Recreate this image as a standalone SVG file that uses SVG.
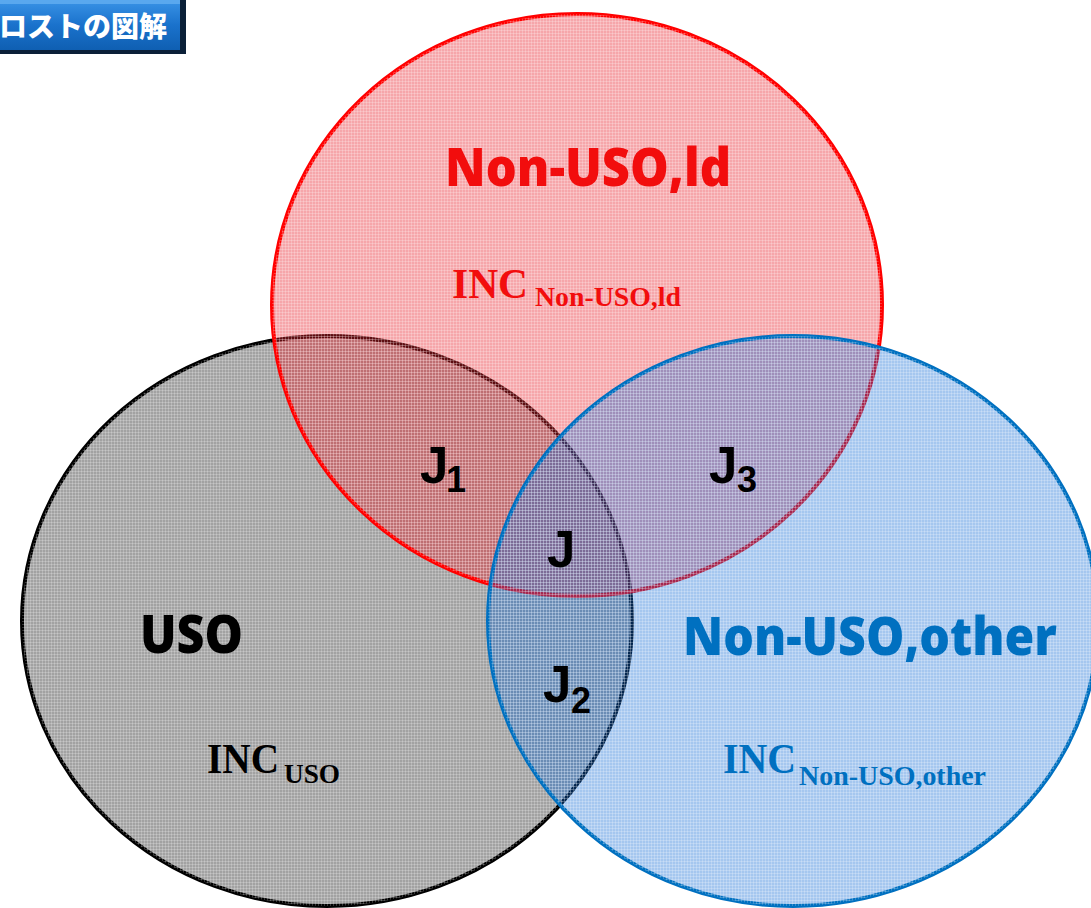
<svg xmlns="http://www.w3.org/2000/svg" width="1091" height="908" viewBox="0 0 1091 908">
  <defs>
    <linearGradient id="btn" x1="0" y1="0" x2="0" y2="1">
      <stop offset="0" stop-color="#3a93e6"/>
      <stop offset="0.5" stop-color="#1a72cc"/>
      <stop offset="1" stop-color="#0f5fb2"/>
    </linearGradient>
    <!-- fine print-screen grid over the set fills -->
    <pattern id="grain" width="3" height="3" patternUnits="userSpaceOnUse">
      <rect x="0" y="0" width="3" height="1" fill="#ffffff" fill-opacity="0.22"/>
      <rect x="0" y="0" width="1" height="3" fill="#ffffff" fill-opacity="0.22"/>
    </pattern>
    <style>
      .set { stroke-width: 4; }
      .big { font-family: "Open Sans", "Lato", "Liberation Sans", sans-serif; font-weight: 800; font-size: 53px; }
      .inc { font-family: "Liberation Serif", "Times New Roman", serif; font-weight: 700; font-size: 43px; }
      .sub { font-family: "Liberation Serif", "Times New Roman", serif; font-weight: 700; font-size: 27px; }
      .j { font-family: "Liberation Sans", Arial, sans-serif; font-weight: 700; font-size: 51px; fill: #000; }
      .js { font-family: "Liberation Sans", Arial, sans-serif; font-weight: 700; font-size: 36px; fill: #000; }
    </style>
  </defs>

  <rect width="1091" height="908" fill="#ffffff"/>

  <!-- title button -->
  <g id="title">
    <rect x="-10" y="0" width="196" height="54" fill="#0b2038"/>
    <rect x="-10" y="0" width="190" height="50" fill="url(#btn)"/>
    <rect x="-10" y="0" width="190" height="4" fill="#5aa8ee"/>
    <text x="-1" y="37" font-family="'Noto Sans CJK JP', sans-serif" font-weight="900" font-size="28" fill="#ffffff">ロストの図解</text>
  </g>

  <!-- USO set -->
  <g id="uso">
    <ellipse cx="327" cy="621" rx="305" ry="285" fill="#a2a2a2" stroke="#000000" class="set"/>
    <ellipse cx="327" cy="621" rx="305" ry="285" fill="url(#grain)"/>
  </g>

  <!-- Non-USO,ld set -->
  <g id="non-uso-ld">
    <ellipse cx="577" cy="305" rx="305" ry="291" fill="#e8202a" fill-opacity="0.4" stroke="#ff0000" class="set"/>
    <ellipse cx="577" cy="305" rx="305" ry="291" fill="url(#grain)"/>
  </g>

  <!-- Non-USO,other set -->
  <g id="non-uso-other">
    <ellipse cx="793" cy="621" rx="305" ry="285" fill="#0a66d4" fill-opacity="0.37" stroke="#0070c0" class="set"/>
    <ellipse cx="793" cy="621" rx="305" ry="285" fill="url(#grain)"/>
  </g>

  <!-- set labels -->
  <g id="labels">
    <text x="445" y="186" class="big" fill="#f20d0d" textLength="286" lengthAdjust="spacingAndGlyphs">Non-USO,ld</text>
    <text x="452" y="298" class="inc" fill="#f20d0d" textLength="76" lengthAdjust="spacingAndGlyphs">INC</text>
    <text x="535" y="306" class="sub" fill="#f20d0d" textLength="146" lengthAdjust="spacingAndGlyphs">Non-USO,ld</text>

    <text x="140" y="653" class="big" fill="#000000" textLength="103" lengthAdjust="spacingAndGlyphs">USO</text>
    <text x="207" y="773" class="inc" fill="#000000" textLength="72" lengthAdjust="spacingAndGlyphs">INC</text>
    <text x="284" y="783" class="sub" fill="#000000" textLength="56" lengthAdjust="spacingAndGlyphs">USO</text>

    <text x="683" y="655" class="big" fill="#0070c0" textLength="374" lengthAdjust="spacingAndGlyphs">Non-USO,other</text>
    <text x="723" y="773" class="inc" fill="#0070c0" textLength="73" lengthAdjust="spacingAndGlyphs">INC</text>
    <text x="799" y="785" class="sub" fill="#0070c0" textLength="187" lengthAdjust="spacingAndGlyphs">Non-USO,other</text>

    <text x="420" y="483" class="j">J</text><text x="446" y="492" class="js">1</text>
    <text x="709" y="483" class="j">J</text><text x="737" y="492" class="js">3</text>
    <text x="547" y="567" class="j">J</text>
    <text x="543" y="702" class="j">J</text><text x="571" y="713" class="js">2</text>
  </g>
</svg>
